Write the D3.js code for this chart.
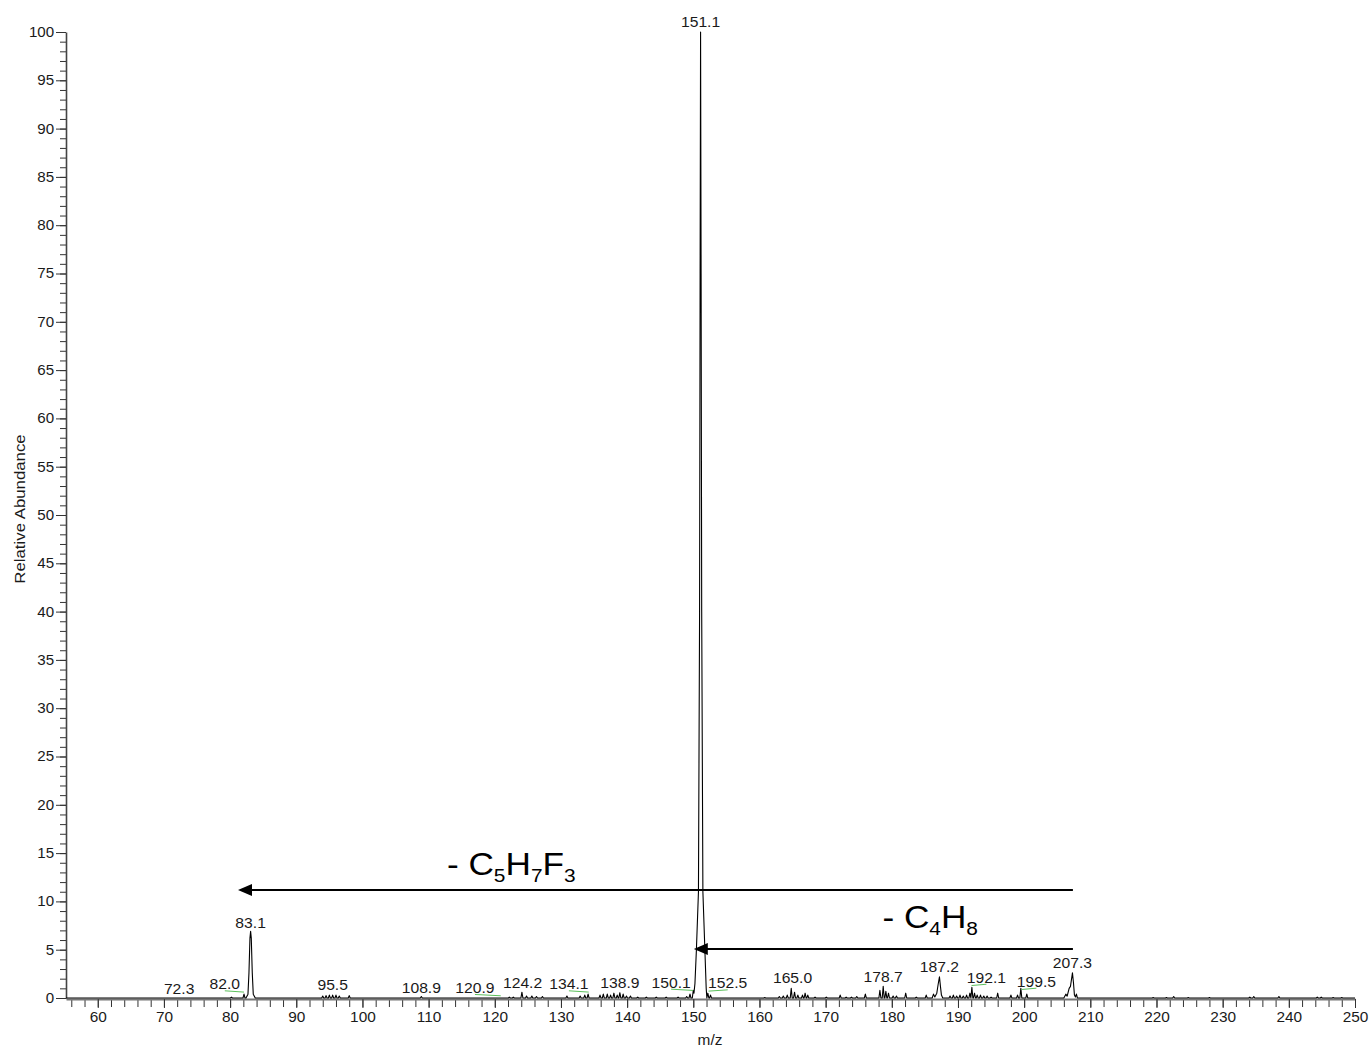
<!DOCTYPE html>
<html>
<head>
<meta charset="utf-8">
<script src="https://cdn.jsdelivr.net/npm/d3@7"></script>
<style>
  html, body { margin: 0; padding: 0; background: #fff; }
  svg { display: block; font-family: "Liberation Sans", Arial, sans-serif; }
</style>
</head>
<body>
<svg id="chart" width="1371" height="1050"></svg>
<script>
// ---------------- DATA ----------------
const xDomain = [55.2, 250];
const yDomain = [0, 100];
const xMajorTicks = [60, 70, 80, 90, 100, 110, 120, 130, 140, 150, 160, 170, 180, 190, 200, 210, 220, 230, 240, 250];
const yMajorTicks = [0, 5, 10, 15, 20, 25, 30, 35, 40, 45, 50, 55, 60, 65, 70, 75, 80, 85, 90, 95, 100];

// Profile segments of the large peaks: [m/z, relative abundance]
const peak83 = [[82.4, 0], [82.7, 0.4], [82.85, 2.6], [83.0, 6.2], [83.1, 6.9], [83.2, 6.2], [83.35, 2.6], [83.5, 0.4], [83.8, 0]];
const peak151 = [[149.85, 0], [150.0, 0.8], [150.1, 0.5], [150.25, 1.5], [150.47, 5], [150.78, 11], [150.95, 40], [151.03, 75], [151.1, 100], [151.18, 75], [151.27, 40], [151.45, 11], [151.75, 5], [151.95, 1], [152.05, 0]];
const peak187 = [[186.1, 0], [186.3, 0.4], [186.5, 0.1], [186.8, 0.5], [187.0, 1.4], [187.2, 2.2], [187.35, 1.2], [187.5, 0.3], [187.7, 0]];
const peak207 = [[206.0, 0], [206.3, 0.4], [206.5, 0.2], [206.8, 1.0], [207.0, 1.2], [207.3, 2.6], [207.45, 1.6], [207.6, 0.3], [207.75, 0.1], [207.9, 0.4], [208.05, 0]];

// Small peaks (noise): m/z and height
const smallMz = [80.2, 82.1, 94.0, 94.5, 95.0, 95.5, 96.0, 96.5, 98.0, 108.9, 122.2, 122.8, 124.1, 124.8, 125.6, 126.3, 127.2,
  130.9, 132.9, 133.6, 134.1, 135.9, 136.4, 137.0, 137.5, 138.0, 138.5, 138.9, 139.4, 139.9, 140.5, 141.6, 142.9, 144.4, 145.9,
  147.7, 149.0, 149.5, 152.2, 152.6, 160.8, 163.0, 163.6, 164.2, 164.8, 165.3, 165.8, 166.5, 166.9, 167.3, 168.4, 170.1, 172.2,
  173.1, 173.9, 174.7, 176.0, 178.2, 178.7, 179.1, 179.5, 180.2, 180.7, 182.1, 183.7, 185.2, 188.8, 189.3, 189.8, 190.3, 190.8,
  191.3, 191.8, 192.1, 192.5, 192.9, 193.4, 193.9, 194.4, 195.0, 196.0, 198.0, 199.0, 199.5, 200.4, 219.5, 221.5, 222.6, 224.8,
  228.0, 234.1, 234.7, 238.5, 244.3, 244.9, 246.7, 248.0];
const smallInt = [0.1, 0.4, 0.2, 0.25, 0.3, 0.3, 0.3, 0.2, 0.25, 0.15, 0.1, 0.1, 0.6, 0.2, 0.2, 0.15, 0.15,
  0.2, 0.2, 0.3, 0.4, 0.3, 0.4, 0.4, 0.3, 0.5, 0.3, 0.55, 0.4, 0.2, 0.2, 0.1, 0.1, 0.1, 0.1,
  0.1, 0.15, 0.4, 0.5, 0.3, 0.05, 0.15, 0.2, 0.3, 1.0, 0.6, 0.3, 0.3, 0.5, 0.3, 0.1, 0.1, 0.3,
  0.1, 0.1, 0.15, 0.4, 0.8, 1.2, 0.7, 0.5, 0.2, 0.2, 0.5, 0.1, 0.3, 0.2, 0.3, 0.2, 0.3, 0.2,
  0.3, 0.5, 1.1, 0.5, 0.3, 0.3, 0.2, 0.2, 0.1, 0.5, 0.3, 0.3, 1.0, 0.4, 0.05, 0.05, 0.15, 0.05,
  0.05, 0.1, 0.15, 0.15, 0.1, 0.1, 0.05, 0.05];

// Peak labels: text, label centre m/z, label baseline (abundance units), peak m/z for leader (null = no leader)
const labelText = ["72.3", "82.0", "83.1", "95.5", "108.9", "120.9", "124.2", "134.1", "138.9", "150.1", "151.1", "152.5", "165.0", "178.7", "187.2", "192.1", "199.5", "207.3"];
const labelMz = [72.3, 79.2, 83.1, 95.5, 108.9, 117.0, 124.2, 131.2, 138.9, 146.65, 151.1, 155.2, 165.0, 178.7, 187.2, 194.3, 201.85, 207.3];
const labelBase = [0.41, 0.90, 7.28, 0.83, 0.52, 0.52, 1.07, 0.90, 1.07, 1.07, 100.55, 1.0, 1.52, 1.69, 2.72, 1.58, 1.17, 3.14];
const leaderPeakMz = [null, 82.1, null, null, null, 120.9, null, 134.2, null, 150.0, null, 152.3, null, null, null, 192.05, 199.6, null];

// Neutral-loss annotations
const lossText = [["- C", "5", "H", "7", "F", "3"], ["- C", "4", "H", "8"]];
const lossFromMz = [207.37, 207.37];
const lossToMz = [81.19, 150.08];
const lossLevel = [11.18, 5.07];
const lossTextMz = [112.77, 178.58];
const lossTextLevel = [12.73, 7.2];

// ---------------- DRAW ----------------
const svg = d3.select("#chart");
const x = d3.scaleLinear().domain(xDomain).range([66, 1355]);
const y = d3.scaleLinear().domain(yDomain).range([998, 32]);

const textColor = "#1a1a1a";

// Y axis: minor ticks every 1
const yMinor = d3.range(0, 101, 1);
svg.append("g").attr("transform", "translate(66,0)")
  .call(d3.axisLeft(y).tickValues(yMinor).tickSize(6).tickFormat(""))
  .call(g => g.select(".domain").remove())
  .call(g => g.selectAll("line").attr("stroke", "#333"));
svg.append("g").attr("transform", "translate(66,0)")
  .call(d3.axisLeft(y).tickValues(yMajorTicks).tickSize(10).tickPadding(1).tickSizeOuter(0))
  .call(g => g.select(".domain").attr("stroke", "#444").attr("stroke-width", 1.6))
  .call(g => g.selectAll("line").attr("stroke", "#333"))
  .call(g => g.selectAll("text").attr("font-size", 14).attr("fill", textColor)
    .attr("font-family", "Liberation Sans, Arial, sans-serif")
    .attr("transform", "scale(1.08,1)"));

// X axis: minor ticks every 2
const xMinor = d3.range(56, 251, 2);
const xAxisY = 999;
svg.append("g").attr("transform", `translate(0,${xAxisY})`)
  .call(d3.axisBottom(x).tickValues(xMinor).tickSize(8).tickFormat(""))
  .call(g => g.select(".domain").remove())
  .call(g => g.selectAll("line").attr("stroke", "#333"));
svg.append("g").attr("transform", `translate(0,${xAxisY})`)
  .call(d3.axisBottom(x).tickValues(xMajorTicks).tickSize(9).tickPadding(4).tickSizeOuter(0))
  .call(g => g.select(".domain").attr("stroke", "#777").attr("stroke-width", 2))
  .call(g => g.selectAll("line").attr("stroke", "#333"))
  .call(g => g.selectAll("text").attr("font-size", 14).attr("fill", textColor)
    .attr("font-family", "Liberation Sans, Arial, sans-serif")
    .attr("transform", "scale(1.1,1)"));

// Axis titles
svg.append("text").attr("transform", "translate(710,1045) scale(1.1,1)").attr("text-anchor", "middle")
  .attr("font-size", 14).attr("fill", textColor).text("m/z");
svg.append("text").attr("transform", `translate(25,509) rotate(-90) scale(1.12,1)`)
  .attr("text-anchor", "middle").attr("font-size", 15).attr("fill", textColor).text("Relative Abundance");

// Profile spectrum
const hw = 0.15;
let pts = [[xDomain[0], 0]];
smallMz.forEach((m, i) => { pts.push([m - hw, 0], [m, smallInt[i]], [m + hw, 0]); });
[peak83, peak151, peak187, peak207].forEach(p => p.forEach(q => pts.push(q)));
pts.push([xDomain[1], 0]);
pts = pts.map((p, i) => ({ p, i })).sort((a, b) => a.p[0] - b.p[0] || a.i - b.i).map(d => d.p);

const line = d3.line().x(d => x(d[0])).y(d => y(d[1]));
svg.append("path").datum(pts).attr("d", line)
  .attr("fill", "none").attr("stroke", "#000").attr("stroke-width", 1.1).attr("stroke-linejoin", "round");

// Leader lines (green)
labelText.forEach((t, i) => {
  if (leaderPeakMz[i] == null) return;
  svg.append("line")
    .attr("x1", x(labelMz[i])).attr("y1", y(labelBase[i]) + 1.5)
    .attr("x2", x(leaderPeakMz[i])).attr("y2", y(labelBase[i]) + 2.8)
    .attr("stroke", "#5cc05c").attr("stroke-width", 1);
});

// Peak labels
svg.append("g").selectAll("text").data(labelText).join("text")
  .attr("transform", (d, i) => `translate(${x(labelMz[i])},${y(labelBase[i])}) scale(1.12,1)`)
  .attr("text-anchor", "middle").attr("font-size", 14).attr("fill", textColor)
  .text(d => d);

// Neutral loss arrows
lossText.forEach((parts, i) => {
  const yy = y(lossLevel[i]);
  const x1 = x(lossFromMz[i]), x2 = x(lossToMz[i]);
  svg.append("line").attr("x1", x1).attr("y1", yy).attr("x2", x2 + 10).attr("y2", yy)
    .attr("stroke", "#000").attr("stroke-width", 2);
  svg.append("path")
    .attr("d", `M${x2},${yy} L${x2 + 14},${yy - 6} L${x2 + 14},${yy + 6} Z`)
    .attr("fill", "#000");
  const txt = svg.append("text")
    .attr("transform", `translate(${x(lossTextMz[i])},${y(lossTextLevel[i])}) scale(1.1,1)`)
    .attr("font-size", 32).attr("fill", "#000");
  parts.forEach((s, k) => {
    const isSub = k % 2 === 1;
    txt.append("tspan").text(s)
      .attr("font-size", isSub ? 19 : 32)
      .attr("dy", k === 0 ? 0 : (isSub ? 7 : -7));
  });
});
</script>
</body>
</html>
